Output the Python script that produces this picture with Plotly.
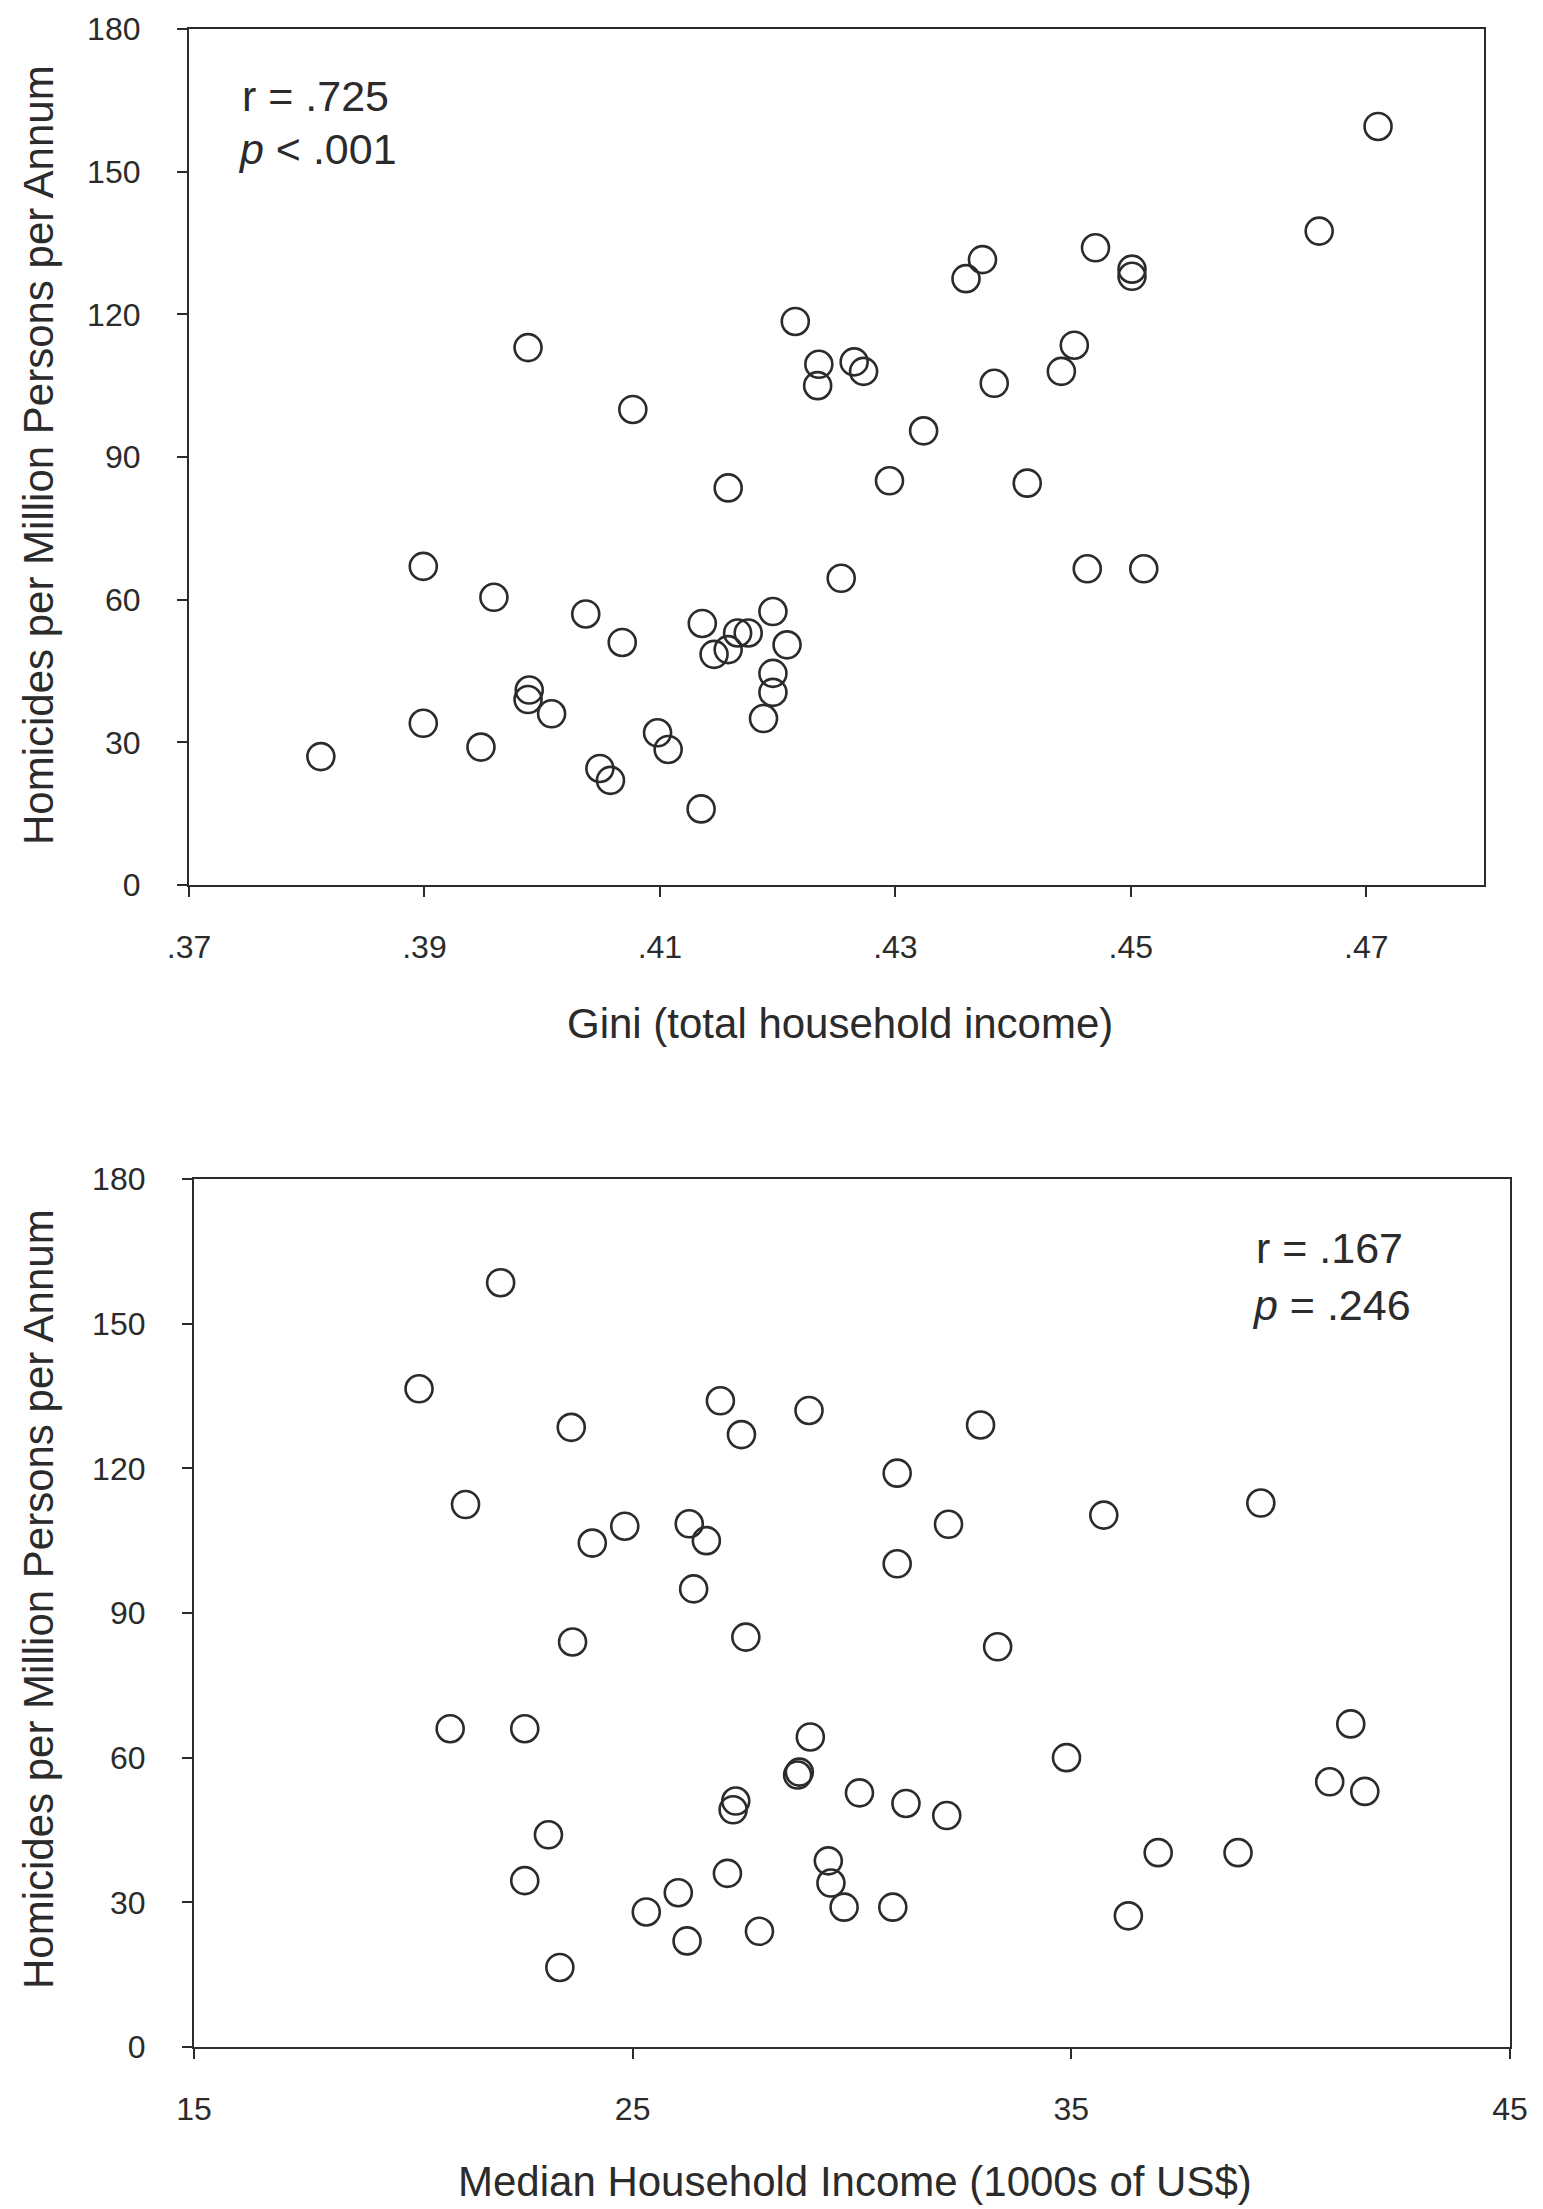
import plotly.graph_objects as go

W, H = 1543, 2209
OFF = 8  # page body margin added by the browser

# ---- Data: top panel (Gini vs homicides) ----
gini = [0.3812, 0.3899, 0.3899, 0.3948, 0.3959, 0.3988, 0.3989, 0.3988, 0.4008, 0.4037,
        0.4049, 0.4058, 0.4068, 0.4077, 0.4098, 0.4107, 0.4135, 0.4136, 0.4146, 0.4158,
        0.4166, 0.4158, 0.4175, 0.4188, 0.4196, 0.4196, 0.4196, 0.4208, 0.4215, 0.4234,
        0.4235, 0.4254, 0.4265, 0.4273, 0.4295, 0.4324, 0.4360, 0.4374, 0.4384, 0.4412,
        0.4441, 0.4452, 0.4463, 0.4470, 0.4501, 0.4501, 0.4511, 0.4660, 0.4710]
hom_top = [27, 34, 67, 29, 60.5, 113, 41, 39, 36, 57,
           24.5, 22, 51, 100, 32, 28.5, 16, 55, 48.5, 49.5,
           53, 83.5, 53, 35, 57.5, 40.5, 44.5, 50.5, 118.5, 105,
           109.5, 64.5, 110, 108, 85, 95.5, 127.5, 131.5, 105.5, 84.5,
           108, 113.5, 66.5, 134, 129.5, 128, 66.5, 137.5, 159.5]

# ---- Data: bottom panel (median income vs homicides) ----
income = [20.13, 21.19, 20.84, 21.99, 22.54, 22.54, 23.08, 23.34, 23.60, 23.63,
          24.08, 24.82, 25.31, 26.04, 26.24, 26.29, 26.39, 26.68, 27.16, 27.00,
          27.29, 27.35, 27.48, 27.58, 27.89, 28.76, 28.80, 29.05, 29.02, 29.46,
          29.52, 29.82, 30.17, 30.93, 31.03, 31.03, 31.23, 32.16, 32.20, 32.93,
          33.32, 34.89, 35.74, 36.30, 36.98, 38.80, 39.32, 40.89, 41.37, 41.69]
hom_bot = [136.5, 112.5, 66, 158.5, 66, 34.5, 44, 16.5, 128.5, 84,
           104.5, 108, 28, 32, 22, 108.5, 95, 105, 36, 134,
           49.2, 51, 127, 85, 24, 56.4, 57, 64.3, 132, 38.6,
           34, 29, 52.7, 29, 119, 100.2, 50.5, 48, 108.4, 129,
           83, 60, 110.3, 27.2, 40.3, 40.3, 112.8, 55, 67, 53]

gini_ticks = [0.37, 0.39, 0.41, 0.43, 0.45, 0.47]
gini_ticktext = [".37", ".39", ".41", ".43", ".45", ".47"]
income_ticks = [15, 25, 35, 45]
y_ticks = [0, 30, 60, 90, 120, 150, 180]

FONT = "Liberation Sans, Arial, sans-serif"
INK = "#2b2b2b"

def px_x(p):
    return (p - OFF) / W

def px_y(p):
    return 1 - (p - OFF) / H

marker = dict(symbol="circle-open", size=27, color=INK, line=dict(width=2.6, color=INK))

fig = go.Figure()
fig.add_trace(go.Scatter(x=gini, y=hom_top, mode="markers", marker=marker,
                         xaxis="x", yaxis="y", showlegend=False))
fig.add_trace(go.Scatter(x=income, y=hom_bot, mode="markers", marker=marker,
                         xaxis="x2", yaxis="y2", showlegend=False))

axis_common = dict(showline=True, linecolor=INK, linewidth=2.2, mirror=True,
                   ticks="outside", ticklen=10, tickwidth=1.5, tickcolor=INK,
                   showgrid=False, zeroline=False, automargin=False,
                   ticklabeloverflow="allow",
                   tickfont=dict(family=FONT, size=32, color=INK))

fig.update_layout(
    template="none",
    width=W, height=H,
    margin=dict(l=0, r=0, t=0, b=0, pad=0),
    paper_bgcolor="white", plot_bgcolor="white",
    font=dict(family=FONT, color=INK),
    xaxis=dict(domain=[px_x(189), px_x(1484)], range=[0.37, 0.48], anchor="y",
               tickvals=gini_ticks, ticktext=gini_ticktext, ticklabelstandoff=22,
               **axis_common),
    yaxis=dict(domain=[px_y(885), px_y(29)], range=[0, 180], anchor="x",
               tickvals=y_ticks, ticklabelstandoff=30, **axis_common),
    xaxis2=dict(domain=[px_x(194), px_x(1510)], range=[15, 45], anchor="y2",
                tickvals=income_ticks, ticklabelstandoff=22, **axis_common),
    yaxis2=dict(domain=[px_y(2047), px_y(1179)], range=[0, 180], anchor="x2",
                tickvals=y_ticks, ticklabelstandoff=30, **axis_common),
)

title_font = dict(family=FONT, size=42, color=INK)
stat_font = dict(family=FONT, size=43, color=INK)

annotations = [
    dict(text="Homicides per Million Persons per Annum", x=px_x(38), y=px_y(455),
         textangle=-90, font=title_font),
    dict(text="Homicides per Million Persons per Annum", x=px_x(38), y=px_y(1599),
         textangle=-90, font=title_font),
    dict(text="Gini (total household income)", x=px_x(840), y=px_y(1023), font=title_font),
    dict(text="Median Household Income (1000s of US$)", x=px_x(855), y=px_y(2181), font=title_font),
    dict(text="r = .725", x=px_x(240), y=px_y(96), xanchor="left", font=stat_font),
    dict(text="<i>p</i> < .001", x=px_x(236), y=px_y(149), xanchor="left", font=stat_font),
    dict(text="r = .167", x=px_x(1254), y=px_y(1248), xanchor="left", font=stat_font),
    dict(text="<i>p</i> = .246", x=px_x(1250), y=px_y(1305), xanchor="left", font=stat_font),
]
for a in annotations:
    a.setdefault("xanchor", "center")
    a.update(xref="paper", yref="paper", showarrow=False, yanchor="middle")
fig.update_layout(annotations=annotations)

fig.write_html("out.html")
